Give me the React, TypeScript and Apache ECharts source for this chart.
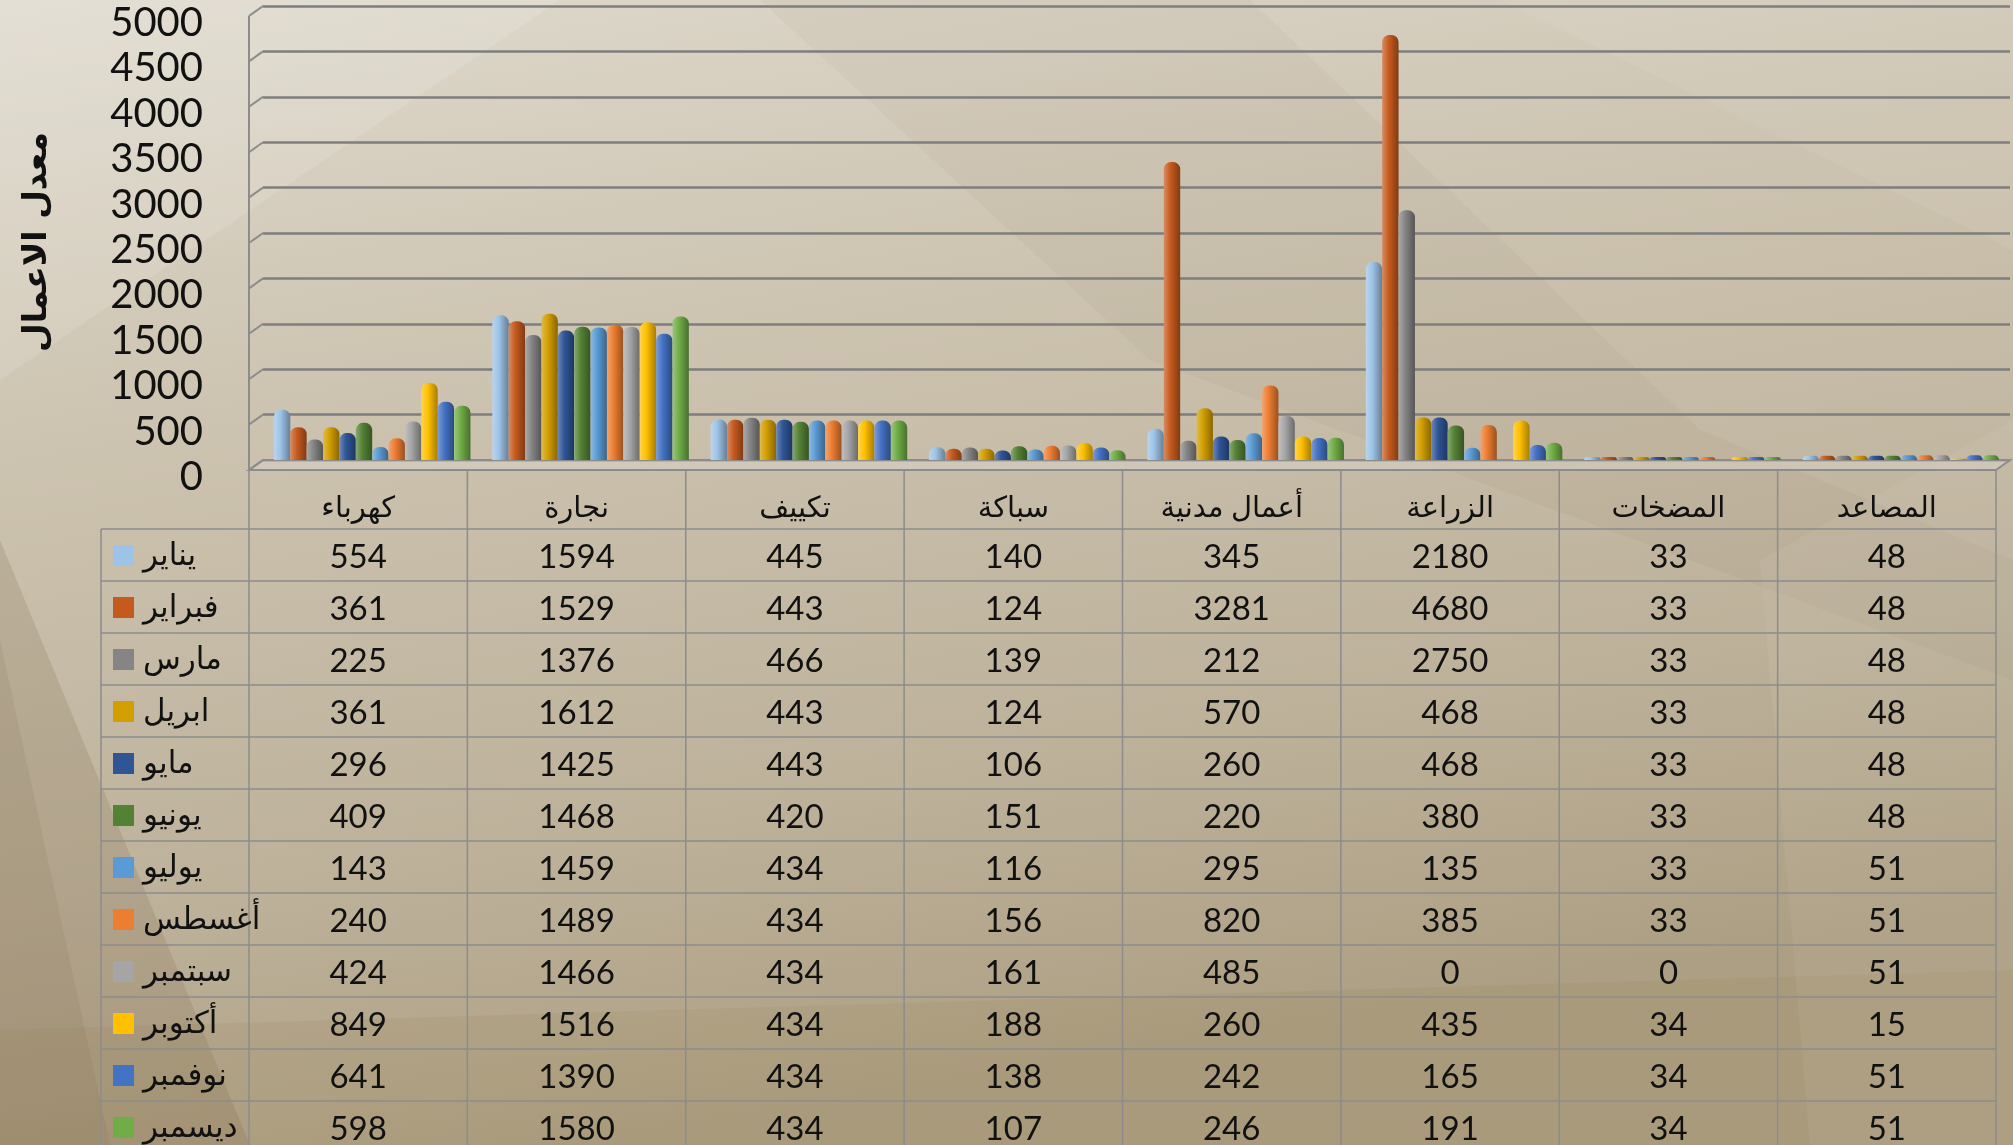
import React, { useEffect, useRef } from "react";
import * as echarts from "echarts";

const categories = ["كهرباء", "نجارة", "تكييف", "سباكة", "أعمال مدنية", "الزراعة", "المضخات", "المصاعد"];
const months = ["يناير", "فبراير", "مارس", "ابريل", "مايو", "يونيو", "يوليو", "أغسطس", "سبتمبر", "أكتوبر", "نوفمبر", "ديسمبر"];

const jan = [554, 1594, 445, 140, 345, 2180, 33, 48];
const feb = [361, 1529, 443, 124, 3281, 4680, 33, 48];
const mar = [225, 1376, 466, 139, 212, 2750, 33, 48];
const apr = [361, 1612, 443, 124, 570, 468, 33, 48];
const may = [296, 1425, 443, 106, 260, 468, 33, 48];
const jun = [409, 1468, 420, 151, 220, 380, 33, 48];
const jul = [143, 1459, 434, 116, 295, 135, 33, 51];
const aug = [240, 1489, 434, 156, 820, 385, 33, 51];
const sep = [424, 1466, 434, 161, 485, 0, 0, 51];
const oct = [849, 1516, 434, 188, 260, 435, 34, 15];
const nov = [641, 1390, 434, 138, 242, 165, 34, 51];
const dec = [598, 1580, 434, 107, 246, 191, 34, 51];
const monthValues = [jan, feb, mar, apr, may, jun, jul, aug, sep, oct, nov, dec];

const colors = ["#9DC3E6", "#C65A1E", "#858585", "#D29E00", "#2F5597", "#548235", "#5B9BD5", "#ED7D31", "#A5A5A5", "#FFC000", "#4472C4", "#70AD47"];

const yAxisTitle = "معدل الاعمال";
const yTickLabels = [0, 500, 1000, 1500, 2000, 2500, 3000, 3500, 4000, 4500, 5000];
const yMax = 5000;
const yStep = 500;

// layout
const W = 2013;
const H = 1145;
const GRID_TOP = 6;
const ZERO_Y = 460;
const DX = 14;
const DY = 10;
const TABLE_X0 = 249;
const TABLE_X1 = 1996;
const GRID_LEFT = TABLE_X0 + DX;
const GRID_RIGHT_X = TABLE_X1 + DX;
const COL_W = (TABLE_X1 - TABLE_X0) / categories.length;
const HEADER_TOP = ZERO_Y + DY;
const ROW0 = 529;
const ROW_H = 52;
const LEG_X = 101;
const LINE_COLOR = "#8C8C8C";
const FONT = "Lato, 'DejaVu Sans', sans-serif";

function shade(hex: string, amt: number) {
  const n = parseInt(hex.slice(1), 16);
  let r = (n >> 16) & 255, g = (n >> 8) & 255, b = n & 255;
  const t = amt > 0 ? 255 : 0;
  const a = Math.abs(amt);
  r = Math.round(r + (t - r) * a);
  g = Math.round(g + (t - g) * a);
  b = Math.round(b + (t - b) * a);
  return "rgb(" + r + "," + g + "," + b + ")";
}

function valueToY(v: number) {
  return ZERO_Y - (v / yMax) * (ZERO_Y - GRID_TOP);
}

function buildGraphics() {
  const els: any[] = [];
  // background
  els.push({
    type: "rect", z: -20, silent: true,
    shape: { x: 0, y: 0, width: W, height: H },
    style: {
      fill: new echarts.graphic.LinearGradient(0, 0, 0.3, 1, [
        { offset: 0, color: "#E0DBCF" },
        { offset: 0.35, color: "#CDC4B1" },
        { offset: 0.75, color: "#BDB19A" },
        { offset: 1, color: "#AD9F83" },
      ]),
    },
  });
  const facets = [
    { pts: [[0, 0], [560, 0], [0, 380]], fill: "rgba(255,255,255,0.12)" },
    { pts: [[0, 540], [250, 1145], [0, 1145]], fill: "rgba(110,88,55,0.16)" },
    { pts: [[0, 640], [110, 1145], [0, 1145]], fill: "rgba(110,88,55,0.10)" },
    { pts: [[760, 0], [1250, 0], [1700, 430], [2013, 560], [2013, 680], [1150, 360]], fill: "rgba(120,100,70,0.05)" },
    { pts: [[1500, 0], [2013, 0], [2013, 250]], fill: "rgba(255,255,255,0.06)" },
    { pts: [[0, 1030], [2013, 970], [2013, 1145], [0, 1145]], fill: "rgba(140,110,60,0.09)" },
    { pts: [[1760, 560], [2013, 420], [2013, 1145], [1810, 1145]], fill: "rgba(255,255,255,0.05)" },
  ];
  facets.forEach((f) => els.push({ type: "polygon", z: -19, silent: true, shape: { points: f.pts }, style: { fill: f.fill } }));

  // floor
  els.push({
    type: "polygon", z: 1, silent: true,
    shape: { points: [[TABLE_X0, HEADER_TOP], [GRID_LEFT, ZERO_Y], [GRID_RIGHT_X, ZERO_Y], [TABLE_X1, HEADER_TOP]] },
    style: { fill: "rgba(215,210,200,0.55)", stroke: LINE_COLOR, lineWidth: 2 },
  });
  // left wall front edge, diagonals and tick labels (front plane)
  els.push({ type: "line", z: 1, silent: true, shape: { x1: TABLE_X0, y1: GRID_TOP + DY, x2: TABLE_X0, y2: HEADER_TOP }, style: { stroke: LINE_COLOR, lineWidth: 2 } });
  yTickLabels.forEach((v) => {
    const y = valueToY(v);
    els.push({ type: "line", z: 1, silent: true, shape: { x1: TABLE_X0, y1: y + DY, x2: GRID_LEFT, y2: y }, style: { stroke: LINE_COLOR, lineWidth: 2 } });
    els.push({
      type: "text", z: 5, x: 203, y: y + 15,
      style: { text: String(v), font: "40px " + FONT, fill: "#111", align: "right", verticalAlign: "middle" },
    });
  });

  // y axis title
  els.push({
    type: "text", z: 5, x: 34, y: 242, rotation: Math.PI / 2,
    style: { text: yAxisTitle, font: "bold 33px 'DejaVu Sans', sans-serif", fill: "#111", align: "center", verticalAlign: "middle" },
  });

  // table
  const nRows = months.length;
  const tableBottom = ROW0 + nRows * ROW_H;
  for (let i = 0; i <= categories.length; i++) {
    const x = TABLE_X0 + i * COL_W;
    els.push({ type: "line", z: 1, silent: true, shape: { x1: x, y1: HEADER_TOP, x2: x, y2: tableBottom }, style: { stroke: LINE_COLOR, lineWidth: 1.5 } });
  }
  els.push({ type: "line", z: 1, silent: true, shape: { x1: LEG_X, y1: ROW0, x2: LEG_X, y2: tableBottom }, style: { stroke: LINE_COLOR, lineWidth: 1.5 } });
  for (let r = 0; r <= nRows; r++) {
    const y = ROW0 + r * ROW_H;
    els.push({ type: "line", z: 1, silent: true, shape: { x1: LEG_X, y1: y, x2: TABLE_X1, y2: y }, style: { stroke: LINE_COLOR, lineWidth: 1.5 } });
  }
  categories.forEach((c, i) => {
    els.push({
      type: "text", z: 5, x: TABLE_X0 + (i + 0.5) * COL_W, y: (HEADER_TOP + ROW0) / 2 + 6,
      style: { text: c, font: "29px " + FONT, fill: "#111", align: "center", verticalAlign: "middle" },
    });
  });
  months.forEach((m, r) => {
    const cy = ROW0 + (r + 0.5) * ROW_H;
    els.push({ type: "rect", z: 5, shape: { x: 113, y: cy - 10, width: 21, height: 21 }, style: { fill: colors[r] } });
    els.push({ type: "text", z: 5, x: 143, y: cy - 2, style: { text: m, font: "31px " + FONT, fill: "#111", align: "left", verticalAlign: "middle" } });
    monthValues[r].forEach((v, i) => {
      els.push({
        type: "text", z: 5, x: TABLE_X0 + (i + 0.5) * COL_W, y: cy,
        style: { text: String(v), font: "33px " + FONT, fill: "#111", align: "center", verticalAlign: "middle" },
      });
    });
  });
  return els;
}

export default function App() {
  const ref = useRef<HTMLDivElement>(null);
  useEffect(() => {
    document.body.style.margin = "0";
    const chart = echarts.init(ref.current!, null, { renderer: "svg" });
    const series = months.map((m, i) => ({
      name: m,
      type: "bar",
      data: monthValues[i],
      barGap: "0%",
      barCategoryGap: "10%",
      z: 3,
      itemStyle: {
        borderRadius: [7, 7, 0, 0],
        color: new echarts.graphic.LinearGradient(0, 0, 1, 0, [
          { offset: 0, color: shade(colors[i], 0.3) },
          { offset: 0.4, color: colors[i] },
          { offset: 1, color: shade(colors[i], -0.35) },
        ]),
      },
    }));
    chart.setOption({
      animation: false,
      grid: { left: GRID_LEFT, top: GRID_TOP, width: GRID_RIGHT_X - GRID_LEFT, height: ZERO_Y - GRID_TOP, containLabel: false },
      xAxis: {
        type: "category",
        data: categories,
        axisLine: { show: false },
        axisTick: { show: false },
        axisLabel: { show: false },
      },
      yAxis: {
        type: "value",
        min: 0,
        max: yMax,
        interval: yStep,
        axisLine: { show: false },
        axisTick: { show: false },
        axisLabel: { show: false },
        splitLine: { lineStyle: { color: "#7E7E7E", width: 2.5 } },
      },
      series,
      graphic: buildGraphics(),
    });
    return () => chart.dispose();
  }, []);
  return <div ref={ref} style={{ position: "fixed", left: 0, top: 0, width: W, height: H }} />;
}
